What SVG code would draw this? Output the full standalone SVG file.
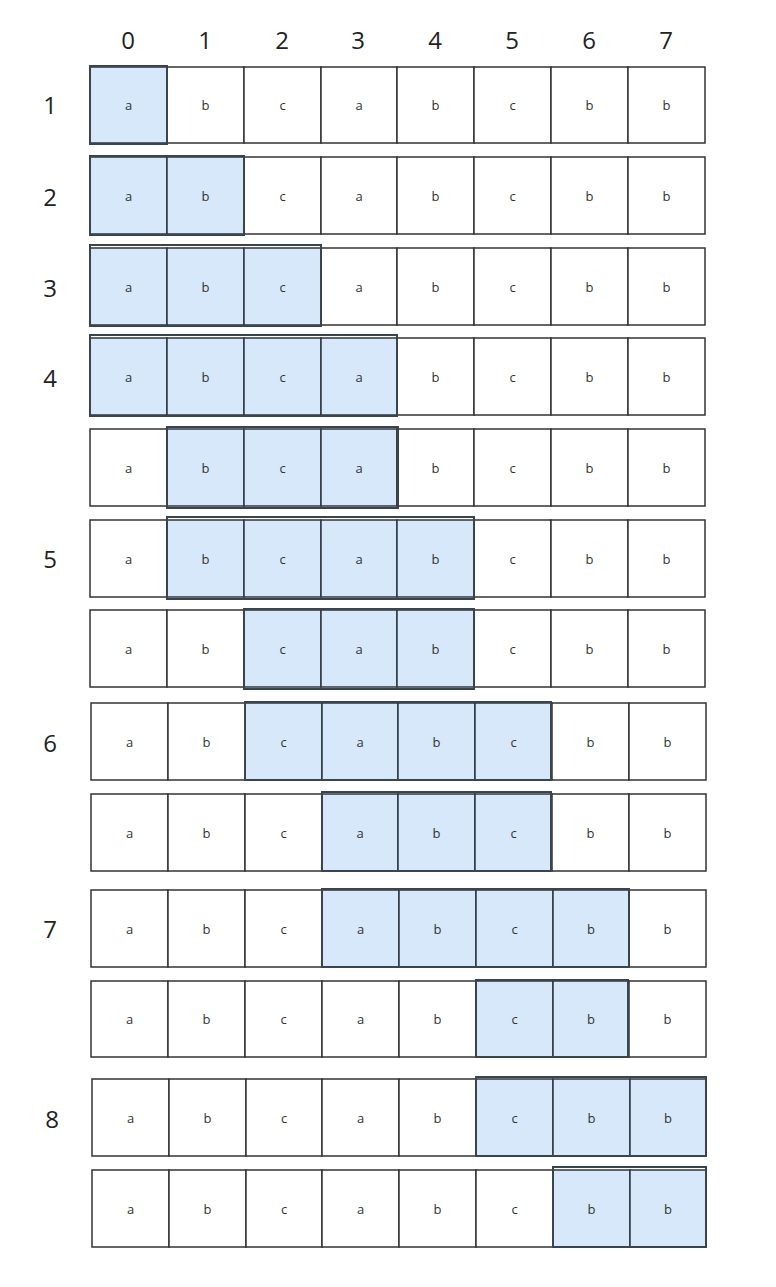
<svg xmlns="http://www.w3.org/2000/svg" width="776" height="1287" viewBox="0 0 776 1287">
<style>
.c{fill:#fff;stroke:#333;stroke-width:1.5}
.h{fill:#d6e8fa;stroke:#2e3740;stroke-width:1.5}
.w{fill:none;stroke:#3a444d;stroke-width:2}
.t{font-family:"Open Sans","Liberation Sans",sans-serif;font-size:13px;fill:#333;text-anchor:middle;dominant-baseline:central}
.n{font-family:"Open Sans","Liberation Sans",sans-serif;font-size:24px;fill:#222;text-anchor:middle;dominant-baseline:central}
</style>
<rect width="776" height="1287" fill="#fff"/>
<g id="col-labels">
<text class="n" x="128" y="39">0</text><text class="n" x="205" y="39">1</text><text class="n" x="282" y="39">2</text><text class="n" x="358" y="39">3</text><text class="n" x="435" y="39">4</text><text class="n" x="512" y="39">5</text><text class="n" x="589" y="39">6</text><text class="n" x="666" y="39">7</text>
</g>
<g id="row-labels">
<text class="n" x="50" y="104">1</text><text class="n" x="50" y="196">2</text><text class="n" x="50" y="287">3</text><text class="n" x="50" y="377">4</text><text class="n" x="50" y="558">5</text><text class="n" x="50" y="742">6</text><text class="n" x="50" y="928">7</text><text class="n" x="52" y="1118">8</text>
</g>
<g id="row1" transform="translate(90,67)">
<g id="r1c0"><rect class="h" x="0" y="0" width="77" height="76"/><text class="t" x="38.5" y="38">a</text></g>
<g id="r1c1"><rect class="c" x="77" y="0" width="77" height="76"/><text class="t" x="115.5" y="38">b</text></g>
<g id="r1c2"><rect class="c" x="154" y="0" width="77" height="76"/><text class="t" x="192.5" y="38">c</text></g>
<g id="r1c3"><rect class="c" x="231" y="0" width="76" height="76"/><text class="t" x="269" y="38">a</text></g>
<g id="r1c4"><rect class="c" x="307" y="0" width="77" height="76"/><text class="t" x="345.5" y="38">b</text></g>
<g id="r1c5"><rect class="c" x="384" y="0" width="77" height="76"/><text class="t" x="422.5" y="38">c</text></g>
<g id="r1c6"><rect class="c" x="461" y="0" width="77" height="76"/><text class="t" x="499.5" y="38">b</text></g>
<g id="r1c7"><rect class="c" x="538" y="0" width="77" height="76"/><text class="t" x="576.5" y="38">b</text></g>
<rect class="w" x="0" y="-1" width="77" height="78"/>
</g>
<g id="row2" transform="translate(90,157)">
<g id="r2c0"><rect class="h" x="0" y="0" width="77" height="77"/><text class="t" x="38.5" y="38.5">a</text></g>
<g id="r2c1"><rect class="h" x="77" y="0" width="77" height="77"/><text class="t" x="115.5" y="38.5">b</text></g>
<g id="r2c2"><rect class="c" x="154" y="0" width="77" height="77"/><text class="t" x="192.5" y="38.5">c</text></g>
<g id="r2c3"><rect class="c" x="231" y="0" width="76" height="77"/><text class="t" x="269" y="38.5">a</text></g>
<g id="r2c4"><rect class="c" x="307" y="0" width="77" height="77"/><text class="t" x="345.5" y="38.5">b</text></g>
<g id="r2c5"><rect class="c" x="384" y="0" width="77" height="77"/><text class="t" x="422.5" y="38.5">c</text></g>
<g id="r2c6"><rect class="c" x="461" y="0" width="77" height="77"/><text class="t" x="499.5" y="38.5">b</text></g>
<g id="r2c7"><rect class="c" x="538" y="0" width="77" height="77"/><text class="t" x="576.5" y="38.5">b</text></g>
<rect class="w" x="0" y="-1" width="154" height="79"/>
</g>
<g id="row3" transform="translate(90,248)">
<g id="r3c0"><rect class="h" x="0" y="0" width="77" height="77"/><text class="t" x="38.5" y="38.5">a</text></g>
<g id="r3c1"><rect class="h" x="77" y="0" width="77" height="77"/><text class="t" x="115.5" y="38.5">b</text></g>
<g id="r3c2"><rect class="h" x="154" y="0" width="77" height="77"/><text class="t" x="192.5" y="38.5">c</text></g>
<g id="r3c3"><rect class="c" x="231" y="0" width="76" height="77"/><text class="t" x="269" y="38.5">a</text></g>
<g id="r3c4"><rect class="c" x="307" y="0" width="77" height="77"/><text class="t" x="345.5" y="38.5">b</text></g>
<g id="r3c5"><rect class="c" x="384" y="0" width="77" height="77"/><text class="t" x="422.5" y="38.5">c</text></g>
<g id="r3c6"><rect class="c" x="461" y="0" width="77" height="77"/><text class="t" x="499.5" y="38.5">b</text></g>
<g id="r3c7"><rect class="c" x="538" y="0" width="77" height="77"/><text class="t" x="576.5" y="38.5">b</text></g>
<rect class="w" x="0" y="-3" width="231" height="81"/>
</g>
<g id="row4" transform="translate(90,338)">
<g id="r4c0"><rect class="h" x="0" y="0" width="77" height="77"/><text class="t" x="38.5" y="38.5">a</text></g>
<g id="r4c1"><rect class="h" x="77" y="0" width="77" height="77"/><text class="t" x="115.5" y="38.5">b</text></g>
<g id="r4c2"><rect class="h" x="154" y="0" width="77" height="77"/><text class="t" x="192.5" y="38.5">c</text></g>
<g id="r4c3"><rect class="h" x="231" y="0" width="76" height="77"/><text class="t" x="269" y="38.5">a</text></g>
<g id="r4c4"><rect class="c" x="307" y="0" width="77" height="77"/><text class="t" x="345.5" y="38.5">b</text></g>
<g id="r4c5"><rect class="c" x="384" y="0" width="77" height="77"/><text class="t" x="422.5" y="38.5">c</text></g>
<g id="r4c6"><rect class="c" x="461" y="0" width="77" height="77"/><text class="t" x="499.5" y="38.5">b</text></g>
<g id="r4c7"><rect class="c" x="538" y="0" width="77" height="77"/><text class="t" x="576.5" y="38.5">b</text></g>
<rect class="w" x="0" y="-3" width="307" height="81"/>
</g>
<g id="row5" transform="translate(90,429)">
<g id="r5c0"><rect class="c" x="0" y="0" width="77" height="77"/><text class="t" x="38.5" y="38.5">a</text></g>
<g id="r5c1"><rect class="h" x="77" y="0" width="77" height="77"/><text class="t" x="115.5" y="38.5">b</text></g>
<g id="r5c2"><rect class="h" x="154" y="0" width="77" height="77"/><text class="t" x="192.5" y="38.5">c</text></g>
<g id="r5c3"><rect class="h" x="231" y="0" width="76" height="77"/><text class="t" x="269" y="38.5">a</text></g>
<g id="r5c4"><rect class="c" x="307" y="0" width="77" height="77"/><text class="t" x="345.5" y="38.5">b</text></g>
<g id="r5c5"><rect class="c" x="384" y="0" width="77" height="77"/><text class="t" x="422.5" y="38.5">c</text></g>
<g id="r5c6"><rect class="c" x="461" y="0" width="77" height="77"/><text class="t" x="499.5" y="38.5">b</text></g>
<g id="r5c7"><rect class="c" x="538" y="0" width="77" height="77"/><text class="t" x="576.5" y="38.5">b</text></g>
<rect class="w" x="77" y="-2" width="231" height="81"/>
</g>
<g id="row6" transform="translate(90,520)">
<g id="r6c0"><rect class="c" x="0" y="0" width="77" height="77"/><text class="t" x="38.5" y="38.5">a</text></g>
<g id="r6c1"><rect class="h" x="77" y="0" width="77" height="77"/><text class="t" x="115.5" y="38.5">b</text></g>
<g id="r6c2"><rect class="h" x="154" y="0" width="77" height="77"/><text class="t" x="192.5" y="38.5">c</text></g>
<g id="r6c3"><rect class="h" x="231" y="0" width="76" height="77"/><text class="t" x="269" y="38.5">a</text></g>
<g id="r6c4"><rect class="h" x="307" y="0" width="77" height="77"/><text class="t" x="345.5" y="38.5">b</text></g>
<g id="r6c5"><rect class="c" x="384" y="0" width="77" height="77"/><text class="t" x="422.5" y="38.5">c</text></g>
<g id="r6c6"><rect class="c" x="461" y="0" width="77" height="77"/><text class="t" x="499.5" y="38.5">b</text></g>
<g id="r6c7"><rect class="c" x="538" y="0" width="77" height="77"/><text class="t" x="576.5" y="38.5">b</text></g>
<rect class="w" x="77" y="-3" width="307" height="82"/>
</g>
<g id="row7" transform="translate(90,610)">
<g id="r7c0"><rect class="c" x="0" y="0" width="77" height="77"/><text class="t" x="38.5" y="38.5">a</text></g>
<g id="r7c1"><rect class="c" x="77" y="0" width="77" height="77"/><text class="t" x="115.5" y="38.5">b</text></g>
<g id="r7c2"><rect class="h" x="154" y="0" width="77" height="77"/><text class="t" x="192.5" y="38.5">c</text></g>
<g id="r7c3"><rect class="h" x="231" y="0" width="76" height="77"/><text class="t" x="269" y="38.5">a</text></g>
<g id="r7c4"><rect class="h" x="307" y="0" width="77" height="77"/><text class="t" x="345.5" y="38.5">b</text></g>
<g id="r7c5"><rect class="c" x="384" y="0" width="77" height="77"/><text class="t" x="422.5" y="38.5">c</text></g>
<g id="r7c6"><rect class="c" x="461" y="0" width="77" height="77"/><text class="t" x="499.5" y="38.5">b</text></g>
<g id="r7c7"><rect class="c" x="538" y="0" width="77" height="77"/><text class="t" x="576.5" y="38.5">b</text></g>
<rect class="w" x="154" y="-1" width="230" height="80"/>
</g>
<g id="row8" transform="translate(91,703)">
<g id="r8c0"><rect class="c" x="0" y="0" width="77" height="77"/><text class="t" x="38.5" y="38.5">a</text></g>
<g id="r8c1"><rect class="c" x="77" y="0" width="77" height="77"/><text class="t" x="115.5" y="38.5">b</text></g>
<g id="r8c2"><rect class="h" x="154" y="0" width="77" height="77"/><text class="t" x="192.5" y="38.5">c</text></g>
<g id="r8c3"><rect class="h" x="231" y="0" width="76" height="77"/><text class="t" x="269" y="38.5">a</text></g>
<g id="r8c4"><rect class="h" x="307" y="0" width="77" height="77"/><text class="t" x="345.5" y="38.5">b</text></g>
<g id="r8c5"><rect class="h" x="384" y="0" width="77" height="77"/><text class="t" x="422.5" y="38.5">c</text></g>
<g id="r8c6"><rect class="c" x="461" y="0" width="77" height="77"/><text class="t" x="499.5" y="38.5">b</text></g>
<g id="r8c7"><rect class="c" x="538" y="0" width="77" height="77"/><text class="t" x="576.5" y="38.5">b</text></g>
<rect class="w" x="154" y="-1" width="306" height="78"/>
</g>
<g id="row9" transform="translate(91,794)">
<g id="r9c0"><rect class="c" x="0" y="0" width="77" height="77"/><text class="t" x="38.5" y="38.5">a</text></g>
<g id="r9c1"><rect class="c" x="77" y="0" width="77" height="77"/><text class="t" x="115.5" y="38.5">b</text></g>
<g id="r9c2"><rect class="c" x="154" y="0" width="77" height="77"/><text class="t" x="192.5" y="38.5">c</text></g>
<g id="r9c3"><rect class="h" x="231" y="0" width="76" height="77"/><text class="t" x="269" y="38.5">a</text></g>
<g id="r9c4"><rect class="h" x="307" y="0" width="77" height="77"/><text class="t" x="345.5" y="38.5">b</text></g>
<g id="r9c5"><rect class="h" x="384" y="0" width="77" height="77"/><text class="t" x="422.5" y="38.5">c</text></g>
<g id="r9c6"><rect class="c" x="461" y="0" width="77" height="77"/><text class="t" x="499.5" y="38.5">b</text></g>
<g id="r9c7"><rect class="c" x="538" y="0" width="77" height="77"/><text class="t" x="576.5" y="38.5">b</text></g>
<rect class="w" x="231" y="-2" width="229" height="79"/>
</g>
<g id="row10" transform="translate(91,890)">
<g id="r10c0"><rect class="c" x="0" y="0" width="77" height="77"/><text class="t" x="38.5" y="38.5">a</text></g>
<g id="r10c1"><rect class="c" x="77" y="0" width="77" height="77"/><text class="t" x="115.5" y="38.5">b</text></g>
<g id="r10c2"><rect class="c" x="154" y="0" width="77" height="77"/><text class="t" x="192.5" y="38.5">c</text></g>
<g id="r10c3"><rect class="h" x="231" y="0" width="77" height="77"/><text class="t" x="269.5" y="38.5">a</text></g>
<g id="r10c4"><rect class="h" x="308" y="0" width="77" height="77"/><text class="t" x="346.5" y="38.5">b</text></g>
<g id="r10c5"><rect class="h" x="385" y="0" width="77" height="77"/><text class="t" x="423.5" y="38.5">c</text></g>
<g id="r10c6"><rect class="h" x="462" y="0" width="76" height="77"/><text class="t" x="500" y="38.5">b</text></g>
<g id="r10c7"><rect class="c" x="538" y="0" width="77" height="77"/><text class="t" x="576.5" y="38.5">b</text></g>
<rect class="w" x="231" y="-1" width="307" height="78"/>
</g>
<g id="row11" transform="translate(91,981)">
<g id="r11c0"><rect class="c" x="0" y="0" width="77" height="76"/><text class="t" x="38.5" y="38">a</text></g>
<g id="r11c1"><rect class="c" x="77" y="0" width="77" height="76"/><text class="t" x="115.5" y="38">b</text></g>
<g id="r11c2"><rect class="c" x="154" y="0" width="77" height="76"/><text class="t" x="192.5" y="38">c</text></g>
<g id="r11c3"><rect class="c" x="231" y="0" width="77" height="76"/><text class="t" x="269.5" y="38">a</text></g>
<g id="r11c4"><rect class="c" x="308" y="0" width="77" height="76"/><text class="t" x="346.5" y="38">b</text></g>
<g id="r11c5"><rect class="h" x="385" y="0" width="77" height="76"/><text class="t" x="423.5" y="38">c</text></g>
<g id="r11c6"><rect class="h" x="462" y="0" width="76" height="76"/><text class="t" x="500" y="38">b</text></g>
<g id="r11c7"><rect class="c" x="538" y="0" width="77" height="76"/><text class="t" x="576.5" y="38">b</text></g>
<rect class="w" x="385" y="-1" width="152" height="77"/>
</g>
<g id="row12" transform="translate(92,1079)">
<g id="r12c0"><rect class="c" x="0" y="0" width="77" height="77"/><text class="t" x="38.5" y="38.5">a</text></g>
<g id="r12c1"><rect class="c" x="77" y="0" width="77" height="77"/><text class="t" x="115.5" y="38.5">b</text></g>
<g id="r12c2"><rect class="c" x="154" y="0" width="76" height="77"/><text class="t" x="192" y="38.5">c</text></g>
<g id="r12c3"><rect class="c" x="230" y="0" width="77" height="77"/><text class="t" x="268.5" y="38.5">a</text></g>
<g id="r12c4"><rect class="c" x="307" y="0" width="77" height="77"/><text class="t" x="345.5" y="38.5">b</text></g>
<g id="r12c5"><rect class="h" x="384" y="0" width="77" height="77"/><text class="t" x="422.5" y="38.5">c</text></g>
<g id="r12c6"><rect class="h" x="461" y="0" width="77" height="77"/><text class="t" x="499.5" y="38.5">b</text></g>
<g id="r12c7"><rect class="h" x="538" y="0" width="76" height="77"/><text class="t" x="576" y="38.5">b</text></g>
<rect class="w" x="384" y="-2" width="230" height="79"/>
</g>
<g id="row13" transform="translate(92,1170)">
<g id="r13c0"><rect class="c" x="0" y="0" width="77" height="77"/><text class="t" x="38.5" y="38.5">a</text></g>
<g id="r13c1"><rect class="c" x="77" y="0" width="77" height="77"/><text class="t" x="115.5" y="38.5">b</text></g>
<g id="r13c2"><rect class="c" x="154" y="0" width="76" height="77"/><text class="t" x="192" y="38.5">c</text></g>
<g id="r13c3"><rect class="c" x="230" y="0" width="77" height="77"/><text class="t" x="268.5" y="38.5">a</text></g>
<g id="r13c4"><rect class="c" x="307" y="0" width="77" height="77"/><text class="t" x="345.5" y="38.5">b</text></g>
<g id="r13c5"><rect class="c" x="384" y="0" width="77" height="77"/><text class="t" x="422.5" y="38.5">c</text></g>
<g id="r13c6"><rect class="h" x="461" y="0" width="77" height="77"/><text class="t" x="499.5" y="38.5">b</text></g>
<g id="r13c7"><rect class="h" x="538" y="0" width="76" height="77"/><text class="t" x="576" y="38.5">b</text></g>
<rect class="w" x="461" y="-3" width="153" height="80"/>
</g>
<g id="connectors"/>
</svg>
